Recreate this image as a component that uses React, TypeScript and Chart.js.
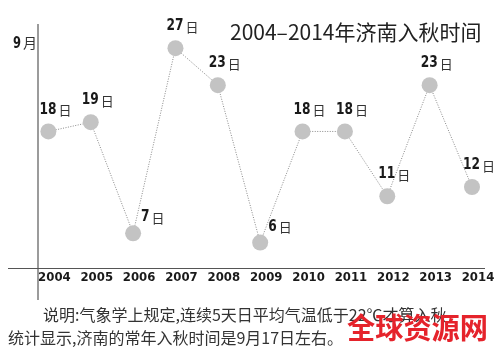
import React, { useEffect, useRef } from 'react';
import { Chart, registerables } from 'chart.js';

Chart.register(...registerables);

const YEARS = [2004, 2005, 2006, 2007, 2008, 2009, 2010, 2011, 2012, 2013, 2014];
const DAYS = [18, 19, 7, 27, 23, 6, 18, 18, 11, 23, 12];
const TITLE = '2004–2014年济南入秋时间';
const Y_LABEL_NUM = '9';
const Y_LABEL_UNIT = '月';
const DAY_UNIT = '日';
const NOTE_1 = '说明:气象学上规定,连续5天日平均气温低于22℃才算入秋';
const NOTE_2 = '统计显示,济南的常年入秋时间是9月17日左右。';
const WATERMARK = '全球资源网';

const NUM_FONT = "'DejaVu Sans Condensed', sans-serif";
const CJK_FONT = "'Noto Sans CJK SC', sans-serif";

const overlayPlugin = {
  id: 'overlay',
  beforeDraw(chart: any) {
    const { ctx, width, height } = chart;
    ctx.save();
    ctx.fillStyle = '#ffffff';
    ctx.fillRect(0, 0, width, height);
    ctx.restore();
  },
  beforeDatasetsDraw(chart: any) {
    const { ctx, chartArea } = chart;
    ctx.save();
    ctx.strokeStyle = '#7a7a7a';
    ctx.lineWidth = 1.5;
    ctx.beginPath();
    ctx.moveTo(chartArea.left, chartArea.top - 1);
    ctx.lineTo(chartArea.left, 300);
    ctx.stroke();
    ctx.strokeStyle = '#555555';
    ctx.lineWidth = 1;
    ctx.beginPath();
    ctx.moveTo(8, chartArea.bottom + 0.5);
    ctx.lineTo(chartArea.right, chartArea.bottom + 0.5);
    ctx.stroke();
    ctx.restore();
  },
  afterDatasetsDraw(chart: any) {
    const { ctx } = chart;
    const meta = chart.getDatasetMeta(0);
    ctx.save();
    ctx.textBaseline = 'middle';
    ctx.textAlign = 'left';

    ctx.fillStyle = '#1a1a1a';
    ctx.font = `bold 16px ${NUM_FONT}`;
    ctx.fillText(Y_LABEL_NUM, 13, 44, 8);
    ctx.font = `14px ${CJK_FONT}`;
    ctx.fillStyle = '#333';
    ctx.fillText(Y_LABEL_UNIT, 23, 43);

    meta.data.forEach((pt: any, i: number) => {
      const v = DAYS[i];
      const num = String(v);
      let x: number;
      let y: number;
      if (v < 10) {
        x = pt.x + 8;
        y = pt.y - 16;
      } else {
        x = pt.x - 9;
        y = pt.y - 22;
      }
      ctx.font = `bold 16px ${NUM_FONT}`;
      ctx.fillStyle = '#1a1a1a';
      const nw = Math.min(ctx.measureText(num).width, num.length * 8.5);
      ctx.fillText(num, x, y, num.length * 8.5);
      ctx.font = `13px ${CJK_FONT}`;
      ctx.fillStyle = '#333';
      ctx.fillText(DAY_UNIT, x + nw + 2, y + 1);
    });

    ctx.fillStyle = '#222';
    ctx.font = `21px ${CJK_FONT}`;
    ctx.fillText(TITLE, 230, 32, 253);

    ctx.fillStyle = '#333';
    ctx.font = `16px ${CJK_FONT}`;
    ctx.fillText(NOTE_1, 43, 315, 434);
    ctx.fillText(NOTE_2, 8, 338, 347);

    ctx.fillStyle = '#e5232b';
    ctx.font = `bold 29px ${CJK_FONT}`;
    ctx.fillText(WATERMARK, 347, 328, 141);
    ctx.restore();
  },
};

export default function App() {
  const ref = useRef<HTMLCanvasElement>(null);
  useEffect(() => {
    if (!ref.current) return;
    const chart = new Chart(ref.current, {
      type: 'line',
      data: {
        datasets: [
          {
            data: YEARS.map((yr, i) => ({ x: yr, y: DAYS[i] })),
            borderColor: '#8a8a8a',
            borderWidth: 1,
            borderDash: [1, 1.5],
            pointRadius: 8,
            pointHoverRadius: 8,
            pointBackgroundColor: '#c3c3c3',
            pointBorderWidth: 0,
            tension: 0,
          },
        ],
      },
      options: {
        responsive: false,
        animation: false,
        devicePixelRatio: 1,
        layout: { padding: { left: 38, right: 15, top: 25, bottom: 0 } },
        plugins: { legend: { display: false }, tooltip: { enabled: false }, title: { display: false } },
        scales: {
          x: {
            type: 'linear',
            min: 2003.755,
            max: 2014.307,
            afterBuildTicks: (scale: any) => {
              scale.ticks = YEARS.map((v) => ({ value: v }));
            },
            afterFit: (scale: any) => {
              scale.height = 86;
            },
            grid: { display: false, drawTicks: false },
            border: { display: false },
            ticks: {
              autoSkip: false,
              maxRotation: 0,
              minRotation: 0,
              labelOffset: 6,
              padding: 2,
              color: '#1a1a1a',
              font: { family: NUM_FONT, size: 13, weight: 'bold' },
              callback: (v: any) => String(v),
            },
          },
          y: {
            display: false,
            min: 3.25,
            max: 29.5,
          },
        },
      },
      plugins: [overlayPlugin],
    } as any);
    return () => chart.destroy();
  }, []);
  return (
    <div style={{ position: 'fixed', left: 0, top: 0, width: 500, height: 354, background: '#fff' }}>
      <canvas ref={ref} width={500} height={354} />
    </div>
  );
}
